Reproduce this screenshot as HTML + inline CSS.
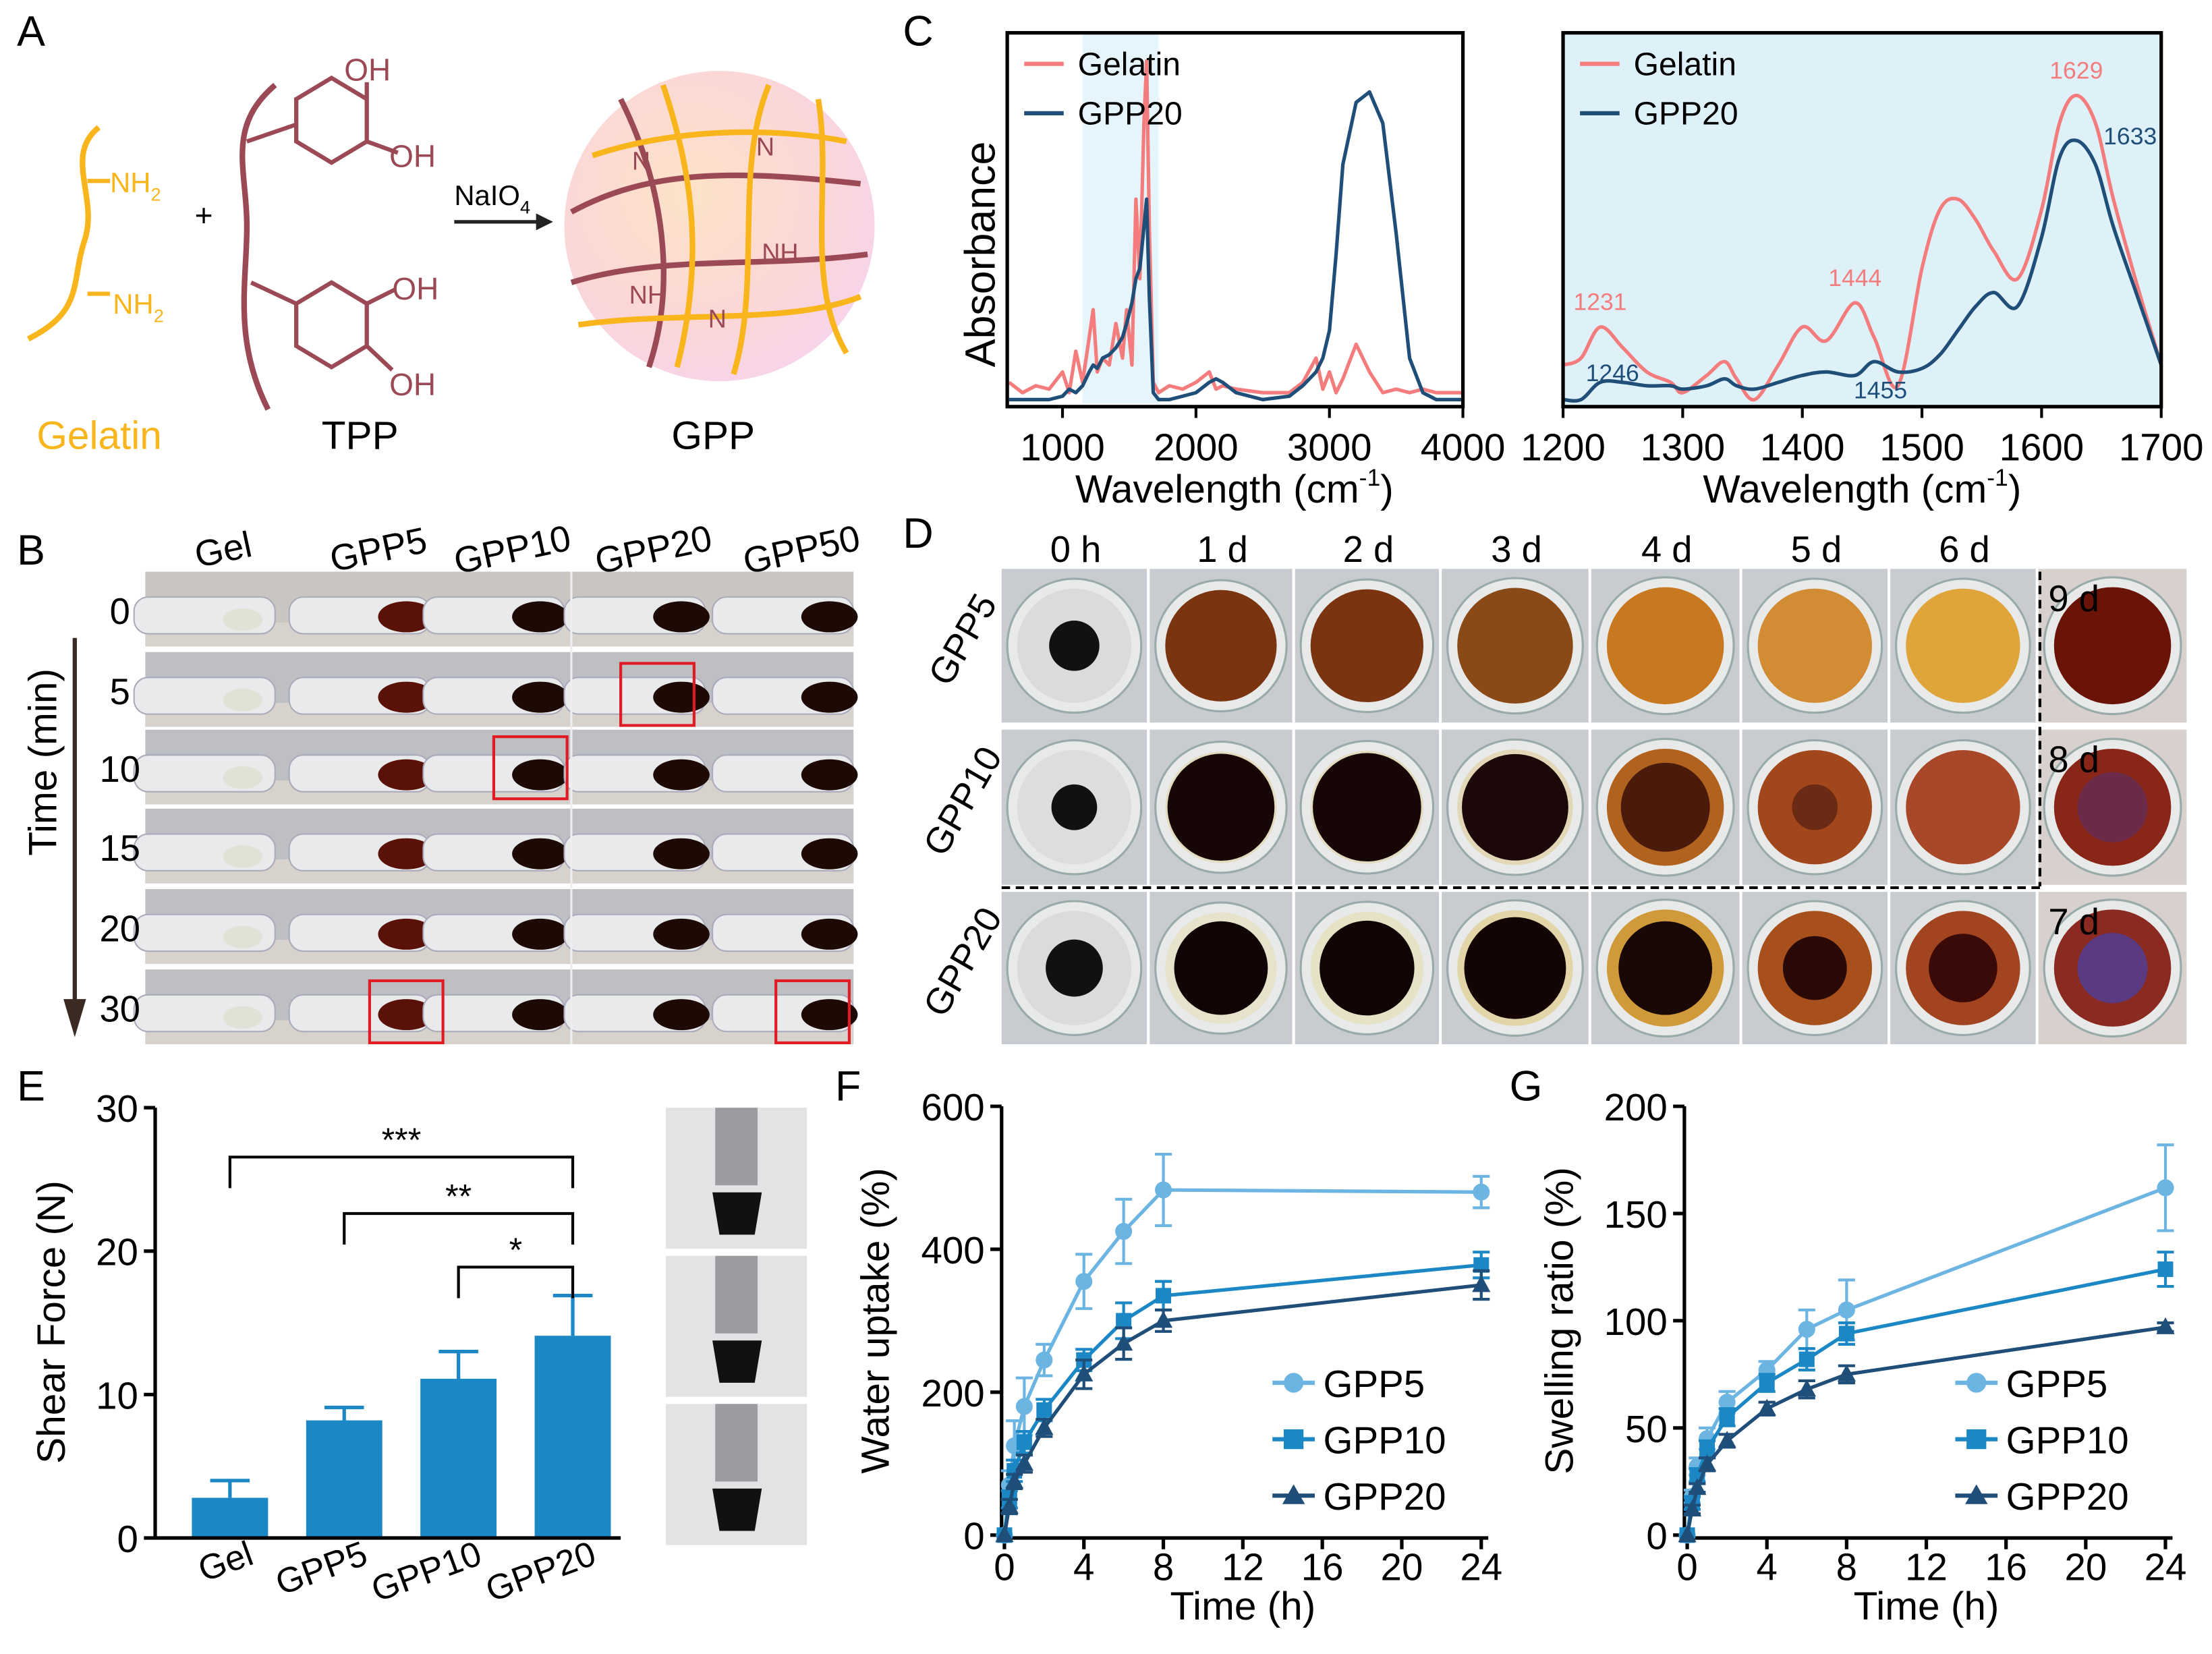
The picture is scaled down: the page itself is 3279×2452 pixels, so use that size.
<!DOCTYPE html>
<html><head><meta charset="utf-8"><style>
html,body{margin:0;padding:0;background:#fff}
svg{display:block}
text{font-family:"Liberation Sans",Arial,sans-serif}
</style></head><body>
<svg id="fig" xmlns="http://www.w3.org/2000/svg" width="3279" height="2452" viewBox="0 0 1568 1172">
<defs>
<radialGradient id="gppg" cx="0.4" cy="0.4" r="0.7"><stop offset="0" stop-color="#fde3c8"/><stop offset="0.6" stop-color="#fbd7d7"/><stop offset="1" stop-color="#f6d3ee"/></radialGradient>
</defs>
<g>
<text x="12" y="32" font-size="30">A</text>
<path d="M70 90 C45 110,70 140,60 170 C50 200,60 220,20 240" fill="none" stroke="#f9b51c" stroke-width="4"/>
<line x1="62" y1="128" x2="78" y2="128" stroke="#f9b51c" stroke-width="3"/>
<line x1="62" y1="208" x2="78" y2="208" stroke="#f9b51c" stroke-width="3"/>
<text x="78" y="136" font-size="20" fill="#f9b51c">NH<tspan font-size="13" dy="6">2</tspan></text>
<text x="80" y="222" font-size="20" fill="#f9b51c">NH<tspan font-size="13" dy="6">2</tspan></text>
<text x="138" y="160" font-size="22">+</text>
<text x="26" y="318" font-size="28" fill="#f9b51c">Gelatin</text>
<path d="M195 60 C160 90,175 120,175 160 C175 200,165 240,190 290" fill="none" stroke="#9b4a55" stroke-width="4"/>
<g fill="none" stroke="#9b4a55" stroke-width="3">
<polygon points="210,70 235,55 260,70 260,100 235,115 210,100"/>
<line x1="175" y1="100" x2="210" y2="88"/><line x1="260" y1="70" x2="260" y2="58"/><line x1="260" y1="100" x2="282" y2="108"/>
<polygon points="210,215 235,200 260,215 260,245 235,260 210,245"/>
<line x1="178" y1="200" x2="210" y2="215"/><line x1="260" y1="215" x2="280" y2="205"/><line x1="260" y1="245" x2="278" y2="262"/>
</g>
<text x="244" y="57" font-size="22" fill="#9b4a55">OH</text>
<text x="276" y="118" font-size="22" fill="#9b4a55">OH</text>
<text x="278" y="212" font-size="22" fill="#9b4a55">OH</text>
<text x="276" y="280" font-size="22" fill="#9b4a55">OH</text>
<text x="228" y="318" font-size="28">TPP</text>
<text x="322" y="145" font-size="20">NaIO<tspan font-size="13" dy="6">4</tspan></text>
<line x1="322" y1="157" x2="385" y2="157" stroke="#222" stroke-width="2.5"/>
<polygon points="392,157 380,151 380,163" fill="#222"/>
<circle cx="510" cy="160" r="110" fill="url(#gppg)"/>
<g fill="none" stroke-width="4">
<path d="M405 150 C460 120,520 120,610 130" stroke="#9b4a55"/>
<path d="M405 200 C470 180,540 190,615 180" stroke="#9b4a55"/>
<path d="M440 70 C470 130,480 200,460 260" stroke="#9b4a55"/>
<path d="M545 60 C520 120,540 200,520 265" stroke="#f9b51c"/>
<path d="M420 110 C480 90,550 90,600 100" stroke="#f9b51c"/>
<path d="M410 230 C480 220,560 230,610 210" stroke="#f9b51c"/>
<path d="M580 70 C590 130,570 200,600 250" stroke="#f9b51c"/>
<path d="M470 60 C490 120,500 180,480 260" stroke="#f9b51c"/>
</g>
<text x="448" y="120" font-size="18" fill="#9b4a55">N</text>
<text x="536" y="110" font-size="18" fill="#9b4a55">N</text>
<text x="540" y="185" font-size="18" fill="#9b4a55">NH</text>
<text x="446" y="215" font-size="18" fill="#9b4a55">NH</text>
<text x="502" y="232" font-size="18" fill="#9b4a55">N</text>
<text x="476" y="318" font-size="28">GPP</text>
</g>
<g id="panelC">
<text x="640" y="32" font-size="30">C</text>
</g>
<g id="panelB">
<text x="12" y="400" font-size="30">B</text>
</g>
<g id="panelD">
<text x="640" y="388" font-size="30">D</text>
</g>
<g id="panelE">
<text x="12" y="780" font-size="30">E</text>
</g>
<g id="panelF">
<text x="592" y="780" font-size="30">F</text>
</g>
<g id="panelG">
<text x="1070" y="780" font-size="30">G</text>
</g>
</svg>
<script>
// ===== Panel C data =====
var leftWn = [600,700,800,900,1000,1050,1100,1150,1200,1230,1260,1300,1350,1400,1450,1480,1520,1550,1580,1610,1630,1650,1680,1720,1800,1900,2000,2100,2150,2200,2300,2500,2700,2800,2900,2950,3000,3050,3100,3200,3300,3400,3500,3600,3700,3800,4000];
var leftGel = [0.05,0.02,0.04,0.03,0.08,0.02,0.14,0.05,0.18,0.26,0.08,0.12,0.1,0.22,0.12,0.26,0.1,0.58,0.35,0.8,0.98,0.5,0.05,0.02,0.04,0.03,0.05,0.08,0.03,0.04,0.03,0.02,0.02,0.05,0.12,0.03,0.08,0.02,0.06,0.16,0.08,0.02,0.03,0.02,0.03,0.02,0.02];
var leftGpp = [0,0,0,0,0.01,0.03,0.02,0.04,0.08,0.1,0.09,0.12,0.13,0.15,0.18,0.22,0.28,0.35,0.38,0.5,0.58,0.3,0.02,0,0.0,0.01,0.02,0.05,0.06,0.05,0.02,0.0,0.01,0.04,0.08,0.12,0.2,0.42,0.68,0.86,0.89,0.8,0.48,0.12,0.02,0,0];
var rightWn = [1200,1215,1231,1250,1270,1290,1300,1320,1335,1345,1360,1380,1400,1420,1444,1460,1480,1500,1515,1530,1545,1560,1580,1600,1615,1629,1645,1660,1680,1700];
var rightGel = [0.1,0.12,0.21,0.15,0.08,0.05,0.02,0.07,0.11,0.06,0.0,0.1,0.21,0.17,0.28,0.18,0.04,0.38,0.55,0.58,0.52,0.43,0.35,0.55,0.8,0.88,0.8,0.58,0.33,0.1];
var rightGpp = [0.0,0.0,0.05,0.05,0.04,0.04,0.03,0.04,0.06,0.04,0.03,0.05,0.07,0.08,0.07,0.11,0.08,0.09,0.13,0.2,0.27,0.31,0.27,0.47,0.7,0.75,0.68,0.5,0.3,0.1];
var leftTicks = [1000,2000,3000,4000];
var rightTicks = [1200,1300,1400,1500,1600,1700];
var rightAnnGel = [[1231,"1231"],[1444,"1444"],[1629,"1629"]];
// ===== Panel E data =====
var eCats = ["Gel","GPP5","GPP10","GPP20"];
var eVals = [2.8,8.2,11.1,14.1];
var eErr = [1.2,0.9,1.9,2.8];
var eTicks = [0,10,20,30];
// ===== Panel F/G data =====
var times = [0,0.25,0.5,1,2,4,6,8,24];
var fGPP5 = [0,70,125,180,245,355,425,483,480];
var fGPP10 = [0,50,90,130,175,245,300,335,378];
var fGPP20 = [0,40,75,100,150,225,268,300,350];
var fErr5 = [0,20,35,40,22,38,45,50,22];
var fErr10 = [0,12,15,15,15,15,25,20,18];
var fErr20 = [0,10,10,12,12,20,22,15,20];
var gGPP5 = [0,18,32,45,62,77,96,105,162];
var gGPP10 = [0,15,28,40,55,71,82,94,124];
var gGPP20 = [0,12,22,33,44,59,68,75,97];
var gErr5 = [0,3,4,5,5,4,9,14,20];
var gErr10 = [0,3,3,4,4,4,5,5,8];
var gErr20 = [0,2,2,3,3,3,4,4,2];
var fTicksY = [0,200,400,600];
var gTicksY = [0,50,100,150,200];
var xTicks = [0,4,8,12,16,20,24];

var NS="http://www.w3.org/2000/svg";
function mk(tag,attrs,parent){var e=document.createElementNS(NS,tag);for(var k in attrs)e.setAttribute(k,attrs[k]);parent.appendChild(e);return e;}
function txt(s,attrs,parent){var e=mk("text",attrs,parent);e.textContent=s;return e;}
function smooth(pts){var d="M"+pts[0][0].toFixed(1)+" "+pts[0][1].toFixed(1);
  for(var i=0;i<pts.length-1;i++){var p0=pts[Math.max(0,i-1)],p1=pts[i],p2=pts[i+1],p3=pts[Math.min(pts.length-1,i+2)];
    var c1x=p1[0]+(p2[0]-p0[0])/6,c1y=p1[1]+(p2[1]-p0[1])/6,c2x=p2[0]-(p3[0]-p1[0])/6,c2y=p2[1]-(p3[1]-p1[1])/6;
    d+="C"+c1x.toFixed(1)+" "+c1y.toFixed(1)+","+c2x.toFixed(1)+" "+c2y.toFixed(1)+","+p2[0].toFixed(1)+" "+p2[1].toFixed(1);}
  return d;}

// ===== Panel C =====
var pc=document.getElementById("panelC");
var GEL="#f47c7c", NAVY="#1f4e79";
function specPlot(x0,x1,y0,y1,wmin,wmax,wn,series,colors,names,shade,sm){
  var sx=function(w){return x0+(w-wmin)/(wmax-wmin)*(x1-x0);};
  var sy=function(v){return y1-5-v*(y1-y0-20);};
  if(shade){var r=mk("rect",{x:sx(shade[0]),y:y0,width:sx(shade[1])-sx(shade[0]),height:y1-y0,fill:"#def1f8"},pc);
    
    }
  for(var s=0;s<series.length;s++){
    var pts=wn.map(function(w,i){return [sx(w),sy(series[s][i])];});
    var d;
    if(sm)d=smooth(pts);else{d="";pts.forEach(function(p,i){d+=(i?"L":"M")+p[0].toFixed(1)+" "+p[1].toFixed(1);});}
    var p=mk("path",{d:d,fill:"none",stroke:colors[s],"stroke-width":2.5,"stroke-linejoin":"round"},pc);
    
    
  }
  var fr=mk("rect",{x:x0,y:y0,width:x1-x0,height:y1-y0,fill:"none",stroke:"#000","stroke-width":2.5},pc);
  
  
  return {sx:sx,sy:sy};
}
var L=specPlot(714,1037,23,288,586,4000,leftWn,[leftGel,leftGpp],[GEL,NAVY],["gelatin","gpp20"],null,false);
var sh=mk("rect",{x:L.sx(1150),y:24,width:L.sx(1720)-L.sx(1150),height:262,fill:"#d6eef8",opacity:0.6},pc);


pc.insertBefore(sh,pc.children[1]);
leftTicks.forEach(function(t){var x=L.sx(t);mk("line",{x1:x,y1:288,x2:x,y2:296,stroke:"#000","stroke-width":2},pc);
  var tl=txt(String(t),{x:x,y:326,"font-size":27,"text-anchor":"middle"},pc);
  
  });
var R=specPlot(1108,1532,23,288,1200,1700,rightWn,[rightGel,rightGpp],[GEL,NAVY],["gelatin","gpp20"],[1200,1700],true);
rightTicks.forEach(function(t){var x=R.sx(t);mk("line",{x1:x,y1:288,x2:x,y2:296,stroke:"#000","stroke-width":2},pc);
  var tl=txt(String(t),{x:x,y:326,"font-size":27,"text-anchor":"middle"},pc);
  
  });
rightAnnGel.forEach(function(a){var i=rightWn.indexOf(a[0]);var t=txt(a[1],{x:R.sx(a[0]),y:R.sy(rightGel[i])-12,"font-size":17,fill:GEL,"text-anchor":"middle"},pc);
  
  });
[[1246,1143,270],[1455,1333,282],[1633,1510,102]].forEach(function(a){var t=txt(String(a[0]),{x:a[1],y:a[2],"font-size":17,fill:NAVY,"text-anchor":"middle"},pc);
  
  });
[[714],[1108]].forEach(function(o){
  var lx=o[0]+10;
  mk("line",{x1:lx+2,y1:45,x2:lx+30,y2:45,stroke:GEL,"stroke-width":3},pc);
  var a=txt("Gelatin",{x:lx+40,y:53,"font-size":23},pc);
  
  
  mk("line",{x1:lx+2,y1:80,x2:lx+30,y2:80,stroke:NAVY,"stroke-width":3},pc);
  var b=txt("GPP20",{x:lx+40,y:88,"font-size":23},pc);
  
  
});
var at=txt("Absorbance",{x:0,y:0,"font-size":30,"text-anchor":"middle",transform:"translate(705,180) rotate(-90)"},pc);


[[875],[1320]].forEach(function(o){var t=txt("",{x:o[0],y:356,"font-size":28,"text-anchor":"middle"},pc);
  t.innerHTML='Wavelength (cm<tspan font-size="17" dy="-12">-1</tspan><tspan dy="12">)</tspan>';
  
  });

// ===== Panel B =====
var pb=document.getElementById("panelB");
var bHead=["Gel","GPP5","GPP10","GPP20","GPP50"], bHX=[160,270,365,465,570];
bHead.forEach(function(h,i){var t=txt(h,{x:0,y:0,"font-size":26,"text-anchor":"middle",transform:"translate("+bHX[i]+",398) rotate(-12)"},pb);
  
  });
var bRows=[0,5,10,15,20,30], bY=[405,462,517,573,630,687];
bRows.forEach(function(r,i){
  var y=bY[i];
  var bg=mk("rect",{x:103,y:y,width:502,height:53,fill:i==0?"#c9c6c2":"#bdbfc3"},pb);
  
  
  mk("rect",{x:103,y:y+36,width:502,height:17,fill:"#d7d2cc"},pb);
  for(var c=0;c<5;c++){var cx=bHX[c]-10;
    mk("rect",{x:cx-55,y:y+18,width:100,height:26,rx:10,fill:"#e9eaec",stroke:"#aab","stroke-width":1},pb);
    if(c>0){mk("ellipse",{cx:cx+28,cy:y+32,rx:20,ry:11,fill:c==1?"#5a1208":"#1e0a05"},pb);}
    else mk("ellipse",{cx:cx+22,cy:y+34,rx:14,ry:8,fill:"#dfe3d6"},pb);}
  var t=txt(String(r),{x:85,y:y+37,"font-size":26,"text-anchor":"middle"},pb);
  
  
});
mk("line",{x1:405,y1:405,x2:405,y2:740,stroke:"#eee","stroke-width":1.5},pb);
[[440,470,52,44],[350,522,52,44],[262,695,52,44],[550,695,52,44]].forEach(function(b){
  var r=mk("rect",{x:b[0],y:b[1],width:b[2],height:b[3],fill:"none",stroke:"#e01b24","stroke-width":2},pb);
  
  });
mk("line",{x1:53,y1:452,x2:53,y2:715,stroke:"#3a2a22","stroke-width":3},pb);
var ar=mk("polygon",{points:"53,735 45,708 61,708",fill:"#3a2a22"},pb);


var tt=txt("Time (min)",{x:0,y:0,"font-size":28,"text-anchor":"middle",transform:"translate(40,540) rotate(-90)"},pb);



// ===== Panel D =====
var pd=document.getElementById("panelD");
var dHead=["0 h","1 d","2 d","3 d","4 d","5 d","6 d"];
var dX=[710,815,918,1022,1128,1235,1340,1445,1552];
var dY=[[403,512],[517,627],[632,740]];
dHead.forEach(function(h,i){var t=txt(h,{x:(dX[i]+dX[i+1])/2,y:398,"font-size":26,"text-anchor":"middle"},pd);
  
  });
var dFill=[["#d9dbdc","#7a3410","#7a3410","#8a4a18","#c8781e","#d28c34","#e0a53a","#6a1408"],
           ["#dcdedd","#e4dcc0","#e4dcc0","#e2d8b8","#b0621e","#a2461c","#a84828","#8a2618"],
           ["#dadcdc","#e6e2cc","#e6e2c6","#e2d6a8","#d09a3a","#a8501c","#a24420","#8a2a20"]];
var dCore=[["#111",null,null,null,null,null,null,null],
           ["#111","#160606","#160606","#1c0808","#4a1a0a","#6a2a14",null,"#6a2a48"],
           ["#111","#100404","#100404","#140505","#1a0806","#2a0a06","#3a0a08","#5a3a80"]];
var dCoreR=[[0.22,0,0,0,0,0,0,0],[0.2,0.48,0.48,0.46,0.38,0.2,0,0.3],[0.25,0.42,0.42,0.44,0.4,0.28,0.3,0.3]];
for(var r=0;r<3;r++){for(var c=0;c<8;c++){
  var x0=dX[c],x1=dX[c+1]-2,y0=dY[r][0],y1=dY[r][1];
  var bg=mk("rect",{x:x0,y:y0,width:x1-x0,height:y1-y0,fill:c==7?"#d8d0cc":"#c8ccd0"},pd);
  
  
  var cx=(x0+x1)/2,cy=(y0+y1)/2,rr=Math.min(x1-x0,y1-y0)/2-4;
  mk("circle",{cx:cx,cy:cy,r:rr,fill:"#e8eaea",stroke:"#9aa","stroke-width":1.5},pd);
  mk("circle",{cx:cx,cy:cy,r:rr-7,fill:dFill[r][c]},pd);
  if(dCore[r][c]){mk("circle",{cx:cx,cy:cy,r:(rr-7)*dCoreR[r][c]*2,fill:dCore[r][c]},pd);}
}}
var rowNames=["GPP5","GPP10","GPP20"];
rowNames.forEach(function(n,i){var t=txt(n,{x:0,y:0,"font-size":26,"text-anchor":"middle",transform:"translate("+(690)+","+((dY[i][0]+dY[i][1])/2)+") rotate(-60)"},pd);
  
  });
[["9 d",0],["8 d",1],["7 d",2]].forEach(function(o){var t=txt(o[0],{x:1452,y:dY[o[1]][0]+30,"font-size":26},pd);
  
  });
mk("line",{x1:1446,y1:405,x2:1446,y2:628,stroke:"#000","stroke-width":2,"stroke-dasharray":"6,4"},pd);
mk("line",{x1:710,y1:629,x2:1446,y2:629,stroke:"#000","stroke-width":2,"stroke-dasharray":"6,4"},pd);

// ===== Panel E =====
var pe=document.getElementById("panelE");
var eX0=110,eY0=1090,eY1=785;
var ey=function(v){return eY0-v/30*(eY0-eY1);};
var ex=function(i){return 163+i*81;};
eVals.forEach(function(v,i){
  var b=mk("rect",{x:ex(i)-27,y:ey(v),width:54,height:eY0-ey(v),fill:"#1b87c5"},pe);
  
  
  var yt=ey(v+eErr[i]);
  mk("line",{x1:ex(i),y1:ey(v),x2:ex(i),y2:yt,stroke:"#1b87c5","stroke-width":2.5},pe);
  mk("line",{x1:ex(i)-14,y1:yt,x2:ex(i)+14,y2:yt,stroke:"#1b87c5","stroke-width":2.5},pe);
  var t=txt(eCats[i],{x:0,y:0,"font-size":25,"text-anchor":"end",transform:"translate("+(ex(i)+18)+",1108) rotate(-20)"},pe);
  
  
});
mk("line",{x1:eX0,y1:eY1,x2:eX0,y2:eY0,stroke:"#000","stroke-width":2.5},pe);
mk("line",{x1:eX0,y1:eY0,x2:440,y2:eY0,stroke:"#000","stroke-width":2.5},pe);
eTicks.forEach(function(t){mk("line",{x1:eX0-8,y1:ey(t),x2:eX0,y2:ey(t),stroke:"#000","stroke-width":2.5},pe);
  var l=txt(String(t),{x:eX0-12,y:ey(t)+10,"font-size":27,"text-anchor":"end"},pe);
  
  });
var yl=txt("Shear Force (N)",{x:0,y:0,"font-size":28,"text-anchor":"middle",transform:"translate(46,937) rotate(-90)"},pe);


[[0,"***",820],[1,"**",860],[2,"*",898]].forEach(function(s){
  var xa=ex(s[0]),xb=ex(3),y=s[2];
  mk("path",{d:"M"+xa+" "+(y+22)+"V"+y+"H"+xb+"V"+(y+22),fill:"none",stroke:"#000","stroke-width":2},pe);
  var t=txt(s[1],{x:(xa+xb)/2,y:y-4,"font-size":24,"text-anchor":"middle"},pe);
  
  
});
[785,890,995].forEach(function(y,i){
  var p=mk("rect",{x:472,y:y,width:100,height:100,fill:"#e2e3e5"},pe);
  
  
  mk("rect",{x:507,y:y,width:30,height:55,fill:"#9a9ca0"},pe);
  mk("path",{d:"M505 "+(y+60)+" L540 "+(y+60)+" L535 "+(y+90)+" L510 "+(y+90)+"Z",fill:"#111"},pe);
});

// ===== Panel F & G =====
var colors=["#6cb5e2","#1b87c5","#1f4e79"];
var names=["GPP5","GPP10","GPP20"];
function linePlot(g,xa,xb,ya,yb,ymax,yticks,series,errs,ytitle,ytx){
  var sx=function(t){return xa+t/24*(xb-xa);};
  var sy=function(v){return ya-v/ymax*(ya-yb);};
  mk("line",{x1:xa-2,y1:yb,x2:xa-2,y2:ya+2,stroke:"#000","stroke-width":2.5},g);
  mk("line",{x1:xa-2,y1:ya+2,x2:xb+5,y2:ya+2,stroke:"#000","stroke-width":2.5},g);
  yticks.forEach(function(t){mk("line",{x1:xa-10,y1:sy(t),x2:xa-2,y2:sy(t),stroke:"#000","stroke-width":2.5},g);
    var l=txt(String(t),{x:xa-14,y:sy(t)+10,"font-size":27,"text-anchor":"end"},g);
    
    });
  xTicks.forEach(function(t){mk("line",{x1:sx(t),y1:ya+2,x2:sx(t),y2:ya+10,stroke:"#000","stroke-width":2.5},g);
    var l=txt(String(t),{x:sx(t),y:ya+32,"font-size":27,"text-anchor":"middle"},g);
    
    });
  var xt=txt("Time (h)",{x:(xa+xb)/2,y:ya+60,"font-size":28,"text-anchor":"middle"},g);
  
  
  var yt=txt(ytitle,{x:0,y:0,"font-size":28,"text-anchor":"middle",transform:"translate("+ytx+","+((ya+yb)/2)+") rotate(-90)"},g);
  
  
  series.forEach(function(s,k){
    var d="";s.forEach(function(v,i){d+=(i?"L":"M")+sx(times[i]).toFixed(1)+" "+sy(v).toFixed(1);});
    var p=mk("path",{d:d,fill:"none",stroke:colors[k],"stroke-width":2.5},g);
    
    
    s.forEach(function(v,i){var x=sx(times[i]),e=errs[k][i];
      if(e>0){mk("path",{d:"M"+(x-6)+" "+sy(v+e)+"H"+(x+6)+"M"+x+" "+sy(v+e)+"V"+sy(v-e)+"M"+(x-6)+" "+sy(v-e)+"H"+(x+6),stroke:colors[k],"stroke-width":2,fill:"none"},g);}
      var m;
      if(k==0)m=mk("circle",{cx:x,cy:sy(v),r:6,fill:colors[k]},g);
      else if(k==1)m=mk("rect",{x:x-5.5,y:sy(v)-5.5,width:11,height:11,fill:colors[k]},g);
      else m=mk("polygon",{points:x+","+(sy(v)-7)+" "+(x-6.5)+","+(sy(v)+5)+" "+(x+6.5)+","+(sy(v)+5),fill:colors[k]},g);
      
      
    });
  });
  var lx=xa+190;
  names.forEach(function(n,k){var y=ya-108+k*40;
    mk("line",{x1:lx,y1:y,x2:lx+30,y2:y,stroke:colors[k],"stroke-width":3},g);
    var m;
    if(k==0)m=mk("circle",{cx:lx+15,cy:y,r:7,fill:colors[k]},g);
    else if(k==1)m=mk("rect",{x:lx+8,y:y-7,width:14,height:14,fill:colors[k]},g);
    else m=mk("polygon",{points:(lx+15)+","+(y-8)+" "+(lx+7)+","+(y+6)+" "+(lx+23)+","+(y+6),fill:colors[k]},g);
    var t=txt(n,{x:lx+36,y:y+10,"font-size":27},g);
    
    
  });
}
linePlot(document.getElementById("panelF"),712,1050,1088,784,600,fTicksY,[fGPP5,fGPP10,fGPP20],[fErr5,fErr10,fErr20],"Water uptake (%)",630);
linePlot(document.getElementById("panelG"),1196,1535,1088,784,200,gTicksY,[gGPP5,gGPP10,gGPP20],[gErr5,gErr10,gErr20],"Swelling ratio (%)",1115);
</script>
</body></html>
